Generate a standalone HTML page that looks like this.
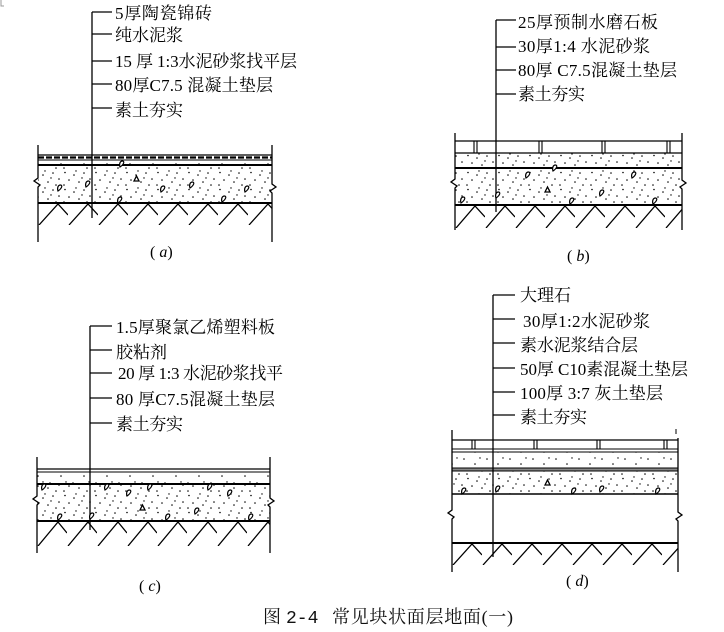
<!DOCTYPE html>
<html><head><meta charset="utf-8">
<style>
html,body{margin:0;padding:0;background:#fff;}
svg{display:block;}
text{font-family:"Liberation Serif","Noto Serif CJK SC",serif;font-size:17px;fill:#000;}
.cap{font-family:"Liberation Serif","Noto Serif CJK SC",serif;font-size:18px;fill:#111;}
.mono{font-family:"Liberation Mono",monospace;font-size:18px;fill:#111;}
</style></head>
<body>
<svg width="724" height="632" viewBox="0 0 724 632" xmlns="http://www.w3.org/2000/svg">
<defs>
  <pattern id="dots" patternUnits="userSpaceOnUse" width="31" height="17">
    <g fill="#000">
      <circle cx="3" cy="2.5" r="0.8"/><circle cx="12" cy="5" r="0.8"/><circle cx="22" cy="3" r="0.8"/>
      <circle cx="28" cy="9" r="0.8"/><circle cx="7" cy="10" r="0.8"/><circle cx="17" cy="12" r="0.8"/>
      <circle cx="25" cy="15" r="0.8"/><circle cx="2" cy="15" r="0.8"/><circle cx="14" cy="1" r="0.7"/>
      <circle cx="20" cy="8" r="0.7"/>
    </g>
  </pattern>
  <pattern id="sdots" patternUnits="userSpaceOnUse" width="23" height="12">
    <g fill="#000">
      <circle cx="4" cy="3" r="0.8"/><circle cx="15" cy="8" r="0.8"/><circle cx="20" cy="2" r="0.7"/>
    </g>
  </pattern>
  <pattern id="hA" patternUnits="userSpaceOnUse" x="38" y="203" width="30" height="22">
    <path d="M1,22 L20,1 L30,12" fill="none" stroke="#000" stroke-width="1.3"/>
  </pattern>
  <pattern id="hB" patternUnits="userSpaceOnUse" x="455" y="205" width="30" height="23">
    <path d="M1,23 L20,1 L30,12" fill="none" stroke="#000" stroke-width="1.3"/>
  </pattern>
  <pattern id="hC" patternUnits="userSpaceOnUse" x="37" y="521" width="30" height="25">
    <path d="M1,25 L21,1 L30,12" fill="none" stroke="#000" stroke-width="1.3"/>
  </pattern>
  <pattern id="hD" patternUnits="userSpaceOnUse" x="452" y="543" width="30" height="22">
    <path d="M1,22 L20,1 L30,12" fill="none" stroke="#000" stroke-width="1.3"/>
  </pattern>
  <path id="tri" d="M0,0 l2.5,-5 l2.5,5 z" fill="#fff" stroke="#000" stroke-width="1.3"/>
  <path id="blob" d="M0,0 c-1,-3 0,-6 2.5,-6 c2,0 2,3 -2.5,6 z" fill="#fff" stroke="#000" stroke-width="1.2"/>
</defs>

<path d="M1,0 V6 H4" fill="none" stroke="#999" stroke-width="1"/>

<!-- ================= Panel (a) ================= -->
<g stroke="#000" fill="none">
  <rect x="38" y="165" width="234" height="38" fill="url(#dots)" stroke="none"/>
  <rect x="38" y="160" width="234" height="5" fill="url(#sdots)" stroke="none"/>
  <rect x="38" y="203" width="234" height="22" fill="url(#hA)" stroke="none"/>
  <line x1="38" y1="155" x2="272" y2="155" stroke-width="1.2"/>
  <line x1="38" y1="157.5" x2="272" y2="157.5" stroke-width="2.2" stroke-dasharray="6 2"/>
  <line x1="38" y1="160" x2="272" y2="160" stroke-width="1"/>
  <line x1="38" y1="165" x2="272" y2="165" stroke-width="2"/>
  <line x1="38" y1="203" x2="272" y2="203" stroke-width="2"/>
  <path d="M38,145 V178 L34,181 L40,185 L38,187 V242" stroke-width="1.3"/>
  <path d="M272,145 V184 L276,187 L270,191 L272,193 V242" stroke-width="1.3"/>
  <path d="M92,12 V218 M92,12 H112 M92,34 H112 M92,61 H112 M92,84 H112 M92,108 H112" stroke-width="1.3"/>
</g>
<g>
  <use href="#tri" x="134" y="181"/><use href="#blob" x="58" y="191"/><use href="#blob" x="86" y="187"/>
  <use href="#blob" x="161" y="192"/><use href="#blob" x="190" y="188"/><use href="#blob" x="245" y="192"/>
  <use href="#blob" x="118" y="203"/><use href="#blob" x="222" y="202"/><use href="#blob" x="120" y="167"/>
</g>
<text x="115" y="19" textLength="97" lengthAdjust="spacing">5厚陶瓷锦砖</text>
<text x="115" y="41" textLength="68" lengthAdjust="spacing">纯水泥浆</text>
<text x="115" y="67" textLength="182" lengthAdjust="spacing">15 厚 1:3水泥砂浆找平层</text>
<text x="115" y="91" textLength="158" lengthAdjust="spacing">80厚C7.5 混凝土垫层</text>
<text x="115" y="116" textLength="68" lengthAdjust="spacing">素土夯实</text>
<text x="150" y="257" style="font-size:16px">(<tspan font-style="italic"> a</tspan>)</text>

<!-- ================= Panel (b) ================= -->
<g stroke="#000" fill="none">
  <rect x="455" y="153" width="227" height="15" fill="url(#dots)" stroke="none"/>
  <rect x="455" y="168" width="227" height="37" fill="url(#dots)" stroke="none"/>
  <rect x="455" y="205" width="227" height="23" fill="url(#hB)" stroke="none"/>
  <line x1="455" y1="141" x2="682" y2="141" stroke-width="1.2"/>
  <line x1="455" y1="153" x2="682" y2="153" stroke-width="1.2"/>
  <line x1="455" y1="168" x2="682" y2="168" stroke-width="2"/>
  <line x1="455" y1="205" x2="682" y2="205" stroke-width="2"/>
  <path d="M474,141 V153 M477,141 V153 M539,141 V153 M542,141 V153 M602,141 V153 M605,141 V153 M667,141 V153 M670,141 V153" stroke-width="1.1"/>
  <path d="M455,133 V179 L451,182 L457,186 L455,188 V230" stroke-width="1.3"/>
  <path d="M682,133 V180 L686,183 L680,187 L682,189 V230" stroke-width="1.3"/>
  <path d="M496,20 V212 M496,20 H516 M496,47 H516 M496,70 H516 M496,94 H516" stroke-width="1.3"/>
</g>
<g>
  <use href="#blob" x="526" y="178"/><use href="#tri" x="545" y="192"/><use href="#blob" x="600" y="196"/>
  <use href="#blob" x="632" y="178"/><use href="#blob" x="461" y="203"/><use href="#blob" x="496" y="198"/>
  <use href="#blob" x="570" y="204"/><use href="#blob" x="653" y="204"/><use href="#blob" x="553" y="171"/>
</g>
<text x="518" y="28" textLength="140" lengthAdjust="spacing">25厚预制水磨石板</text>
<text x="518" y="52" textLength="132" lengthAdjust="spacing">30厚1:4 水泥砂浆</text>
<text x="518" y="76" textLength="159" lengthAdjust="spacing">80厚 C7.5混凝土垫层</text>
<text x="518" y="100" textLength="67" lengthAdjust="spacing">素土夯实</text>
<text x="567" y="261" style="font-size:16px">(<tspan font-style="italic"> b</tspan>)</text>

<!-- ================= Panel (c) ================= -->
<g stroke="#000" fill="none">
  <rect x="37" y="472" width="233" height="12" fill="url(#sdots)" stroke="none"/>
  <rect x="37" y="484" width="233" height="37" fill="url(#dots)" stroke="none"/>
  <rect x="37" y="521" width="233" height="25" fill="url(#hC)" stroke="none"/>
  <line x1="37" y1="469" x2="270" y2="469" stroke-width="1.2"/>
  <line x1="37" y1="472" x2="270" y2="472" stroke-width="1"/>
  <line x1="37" y1="484" x2="270" y2="484" stroke-width="2"/>
  <line x1="37" y1="521" x2="270" y2="521" stroke-width="2"/>
  <path d="M37,457 V496 L33,499 L39,503 L37,505 V553" stroke-width="1.3"/>
  <path d="M270,457 V498 L274,501 L268,505 L270,507 V553" stroke-width="1.3"/>
  <path d="M90,326 V530 M90,326 H112 M90,350 H112 M90,373 H112 M90,398 H112 M90,423 H112" stroke-width="1.3"/>
</g>
<g>
  <use href="#blob" x="42" y="490"/><use href="#blob" x="105" y="490"/><use href="#blob" x="148" y="490"/>
  <use href="#blob" x="208" y="490"/><use href="#blob" x="127" y="496"/><use href="#blob" x="228" y="496"/>
  <use href="#tri" x="140" y="510"/><use href="#blob" x="195" y="514"/><use href="#blob" x="58" y="520"/>
  <use href="#blob" x="90" y="519"/><use href="#blob" x="166" y="520"/><use href="#blob" x="249" y="520"/>
</g>
<text x="116" y="333" textLength="159" lengthAdjust="spacing">1.5厚聚氯乙烯塑料板</text>
<text x="116" y="358" textLength="51" lengthAdjust="spacing">胶粘剂</text>
<text x="118" y="379" textLength="165" lengthAdjust="spacing">20 厚 1:3 水泥砂浆找平</text>
<text x="116" y="405" textLength="159" lengthAdjust="spacing">80 厚C7.5混凝土垫层</text>
<text x="116" y="430" textLength="67" lengthAdjust="spacing">素土夯实</text>
<text x="139" y="591" style="font-size:16px">(<tspan font-style="italic"> c</tspan>)</text>

<!-- ================= Panel (d) ================= -->
<g stroke="#000" fill="none">
  <rect x="452" y="452" width="226" height="16" fill="url(#sdots)" stroke="none"/>
  <rect x="452" y="471" width="226" height="23" fill="url(#dots)" stroke="none"/>
  <rect x="452" y="468" width="226" height="3" fill="#888" stroke="none"/>
  <rect x="452" y="543" width="226" height="22" fill="url(#hD)" stroke="none"/>
  <line x1="452" y1="440" x2="678" y2="440" stroke-width="1.2"/>
  <line x1="452" y1="449" x2="678" y2="449" stroke-width="1"/>
  <line x1="452" y1="452" x2="678" y2="452" stroke-width="1"/>
  <line x1="452" y1="468" x2="678" y2="468" stroke-width="1"/>
  <line x1="452" y1="471" x2="678" y2="471" stroke-width="1"/>
  <line x1="452" y1="494" x2="678" y2="494" stroke-width="1.5"/>
  <line x1="452" y1="543" x2="678" y2="543" stroke-width="2"/>
  <path d="M472,440 V449 M475,440 V449 M534,440 V449 M537,440 V449 M597,440 V449 M600,440 V449 M664,440 V449 M667,440 V449" stroke-width="1.1"/>
  <path d="M452,430 V510 L448,513 L454,517 L452,519 V572" stroke-width="1.3"/>
  <path d="M678,438 V512 L682,515 L676,519 L678,521 V572" stroke-width="1.3"/>
  <path d="M676,429 V434" stroke-width="1"/>
  <path d="M493,295 V557 M493,295 H515 M493,319 H515 M493,343 H515 M493,368 H515 M493,392 H515 M493,415 H515" stroke-width="1.3"/>
</g>
<g>
  <use href="#tri" x="545" y="485"/><use href="#blob" x="496" y="492"/><use href="#blob" x="600" y="492"/>
  <use href="#blob" x="462" y="494"/><use href="#blob" x="572" y="494"/><use href="#blob" x="656" y="494"/>
</g>
<text x="520" y="301" textLength="51" lengthAdjust="spacing">大理石</text>
<text x="523" y="327" textLength="127" lengthAdjust="spacing">30厚1:2水泥砂浆</text>
<text x="520" y="351" textLength="118" lengthAdjust="spacing">素水泥浆结合层</text>
<text x="520" y="375" textLength="168" lengthAdjust="spacing">50厚 C10素混凝土垫层</text>
<text x="520" y="399" textLength="143" lengthAdjust="spacing">100厚 3:7  灰土垫层</text>
<text x="520" y="423" textLength="67" lengthAdjust="spacing">素土夯实</text>
<text x="566" y="586" style="font-size:16px">(<tspan font-style="italic"> d</tspan>)</text>

<!-- caption -->
<text class="cap" x="263" y="623">图</text>
<text class="mono" x="286" y="623">2-4</text>
<text class="cap" x="332" y="623" textLength="181" lengthAdjust="spacing">常见块状面层地面(一)</text>
</svg>
</body></html>
